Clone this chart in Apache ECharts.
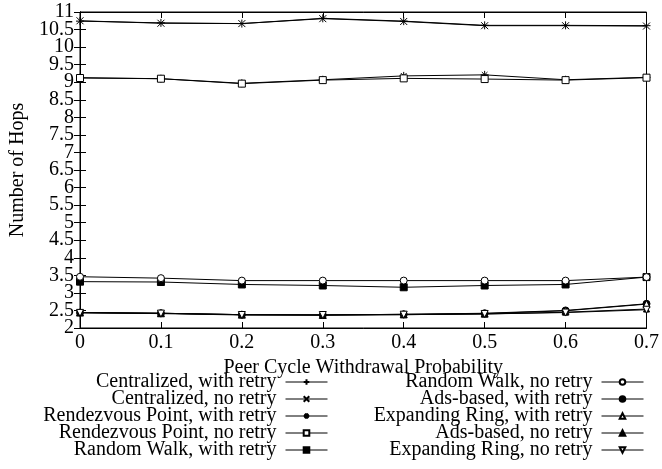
<!DOCTYPE html>
<html>
<head>
<meta charset="utf-8">
<script src="https://cdn.jsdelivr.net/npm/echarts@6/dist/echarts.min.js"></script>
<style>html,body{margin:0;padding:0;background:#fff}#c{width:662px;height:469px}</style>
</head>
<body>
<div id="c"></div>
<script>
var xValues = [0, 0.1, 0.2, 0.3, 0.4, 0.5, 0.6, 0.7];
var seriesNames = [
  'Centralized, with retry', 'Centralized, no retry',
  'Rendezvous Point, with retry', 'Rendezvous Point, no retry',
  'Random Walk, with retry', 'Random Walk, no retry',
  'Ads-based, with retry', 'Expanding Ring, with retry',
  'Ads-based, no retry', 'Expanding Ring, no retry'
];
var centralizedRetry   = [10.74, 10.69, 10.67, 10.82, 10.74, 10.62, 10.62, 10.61];
var centralizedNoRetry = [10.75, 10.68, 10.67, 10.81, 10.73, 10.61, 10.61, 10.60];
var rpRetry            = [9.13, 9.10, 8.97, 9.07, 9.18, 9.21, 9.07, 9.14];
var rpNoRetry          = [9.12, 9.10, 8.96, 9.06, 9.11, 9.09, 9.06, 9.13];
var rwRetry            = [3.32, 3.31, 3.24, 3.21, 3.16, 3.21, 3.24, 3.45];
var rwNoRetry          = [3.46, 3.42, 3.35, 3.35, 3.35, 3.35, 3.35, 3.45];
var adsRetry           = [2.44, 2.42, 2.38, 2.37, 2.39, 2.42, 2.50, 2.69];
var erRetry            = [2.44, 2.42, 2.38, 2.37, 2.39, 2.41, 2.49, 2.68];
var adsNoRetry         = [2.44, 2.42, 2.38, 2.37, 2.38, 2.40, 2.45, 2.54];
var erNoRetry          = [2.43, 2.41, 2.37, 2.37, 2.38, 2.40, 2.44, 2.52];
var allValues = [centralizedRetry, centralizedNoRetry, rpRetry, rpNoRetry, rwRetry, rwNoRetry,
                 adsRetry, erRetry, adsNoRetry, erNoRetry];
var yMin = 2, yMax = 11, yStep = 0.5;
var xMin = 0, xMax = 0.7, xStep = 0.1;

var FONT = 'Liberation Serif';
var FS = 20;
var PLUS = 'path://M0,5L10,5M5,0L5,10';
var CROSS = 'path://M0,0L10,10M10,0L0,10';
var STAR = 'path://M0,5L10,5M5,0L5,10M1.5,1.5L8.5,8.5M8.5,1.5L1.5,8.5';
var styles = [
  {symbol: PLUS, size: 8, fill: '#000'},
  {symbol: CROSS, size: 7, fill: '#000'},
  {symbol: STAR, size: 8, fill: '#000'},
  {symbol: 'rect', size: 7, fill: '#fff'},
  {symbol: 'rect', size: 7, fill: '#000'},
  {symbol: 'circle', size: 7, fill: '#fff'},
  {symbol: 'circle', size: 7, fill: '#000'},
  {symbol: 'triangle', size: 7, fill: '#fff'},
  {symbol: 'triangle', size: 6, fill: '#000'},
  {symbol: 'triangle', size: 7, fill: '#fff', rotate: 180}
];

var series = [];
for (var i = 0; i < seriesNames.length; i++) {
  var d = [];
  for (var j = 0; j < xValues.length; j++) d.push([xValues[j], allValues[i][j]]);
  var st = styles[i];
  series.push({
    name: seriesNames[i], type: 'line', data: d,
    symbol: st.symbol, symbolSize: st.size, symbolRotate: st.rotate || 0,
    showAllSymbol: true,
    lineStyle: {color: '#000', width: 1},
    itemStyle: {color: st.fill, borderColor: '#000', borderWidth: 1},
    emphasis: {disabled: true},
    animation: false, z: 2
  });
}

var legends = [];
var rowY = [382, 399, 416, 433, 450];
for (var k = 0; k < seriesNames.length; k++) {
  var col = k < 5 ? 0 : 1;
  var row = k % 5;
  legends.push({
    data: [seriesNames[k]],
    orient: 'vertical', align: 'right',
    right: col === 0 ? 334 : 18,
    top: rowY[row] - 10,
    padding: 0, itemWidth: 42, itemHeight: 7,
    lineStyle: {width: 1, color: '#000'},
    textStyle: {fontFamily: FONT, fontSize: FS, color: '#000', padding: [0, 4, 0, 0], lineHeight: 20},
    selectedMode: false
  });
}

function isEnd(v) { return Math.abs(v - yMin) < 1e-9 || Math.abs(v - yMax) < 1e-9; }

var chart = echarts.init(document.getElementById('c'));
chart.setOption({
  animation: false,
  backgroundColor: '#fff',
  grid: {left: 79, right: 12, top: 12, bottom: 141, show: true, borderColor: '#000', borderWidth: 1, backgroundColor: 'transparent'},
  legend: legends,
  xAxis: [{
    type: 'value', min: xMin, max: xMax, interval: xStep,
    name: 'Peer Cycle Withdrawal Probability', nameLocation: 'middle', nameGap: 19,
    nameTextStyle: {fontFamily: FONT, fontSize: FS, color: '#000'},
    axisLine: {show: true, lineStyle: {color: '#000'}},
    axisTick: {show: true, inside: true, length: 6, lineStyle: {color: '#000'}},
    axisLabel: {fontFamily: FONT, fontSize: FS, color: '#000', margin: 5, showMinLabel: true, showMaxLabel: true},
    splitLine: {show: false}
  }, {
    type: 'value', min: xMin, max: xMax, interval: xStep, position: 'top',
    axisLine: {show: true, lineStyle: {color: '#000'}},
    axisTick: {show: true, inside: true, length: 6, lineStyle: {color: '#000'}},
    axisLabel: {show: false}, splitLine: {show: false}
  }],
  yAxis: [{
    type: 'value', min: yMin, max: yMax, interval: yStep,
    name: 'Number of Hops', nameLocation: 'middle', nameGap: 52,
    nameTextStyle: {fontFamily: FONT, fontSize: FS, color: '#000'},
    axisLine: {show: true, lineStyle: {color: '#000'}},
    axisTick: {show: true, inside: true, length: 6, lineStyle: {color: '#000'}},
    axisLabel: {
      margin: 6, fontFamily: FONT, fontSize: FS, color: '#000',
      formatter: function (v) { return isEnd(v) ? '' : String(v); }
    },
    splitLine: {show: false}
  }, {
    type: 'value', min: yMin, max: yMax, interval: yStep, position: 'right',
    axisLine: {show: true, lineStyle: {color: '#000'}},
    axisTick: {show: true, inside: true, length: 6, lineStyle: {color: '#000'}},
    axisLabel: {show: false}, splitLine: {show: false}
  }, {
    type: 'value', min: yMin, max: yMax, interval: yStep, position: 'left',
    axisLine: {show: false}, axisTick: {show: false}, splitLine: {show: false},
    axisLabel: {
      margin: 6, fontFamily: FONT, fontSize: FS, color: '#000',
      showMinLabel: true, showMaxLabel: true,
      formatter: function (v) { return isEnd(v) ? String(v) : ''; }
    }
  }],
  series: series
});
</script>
</body>
</html>
